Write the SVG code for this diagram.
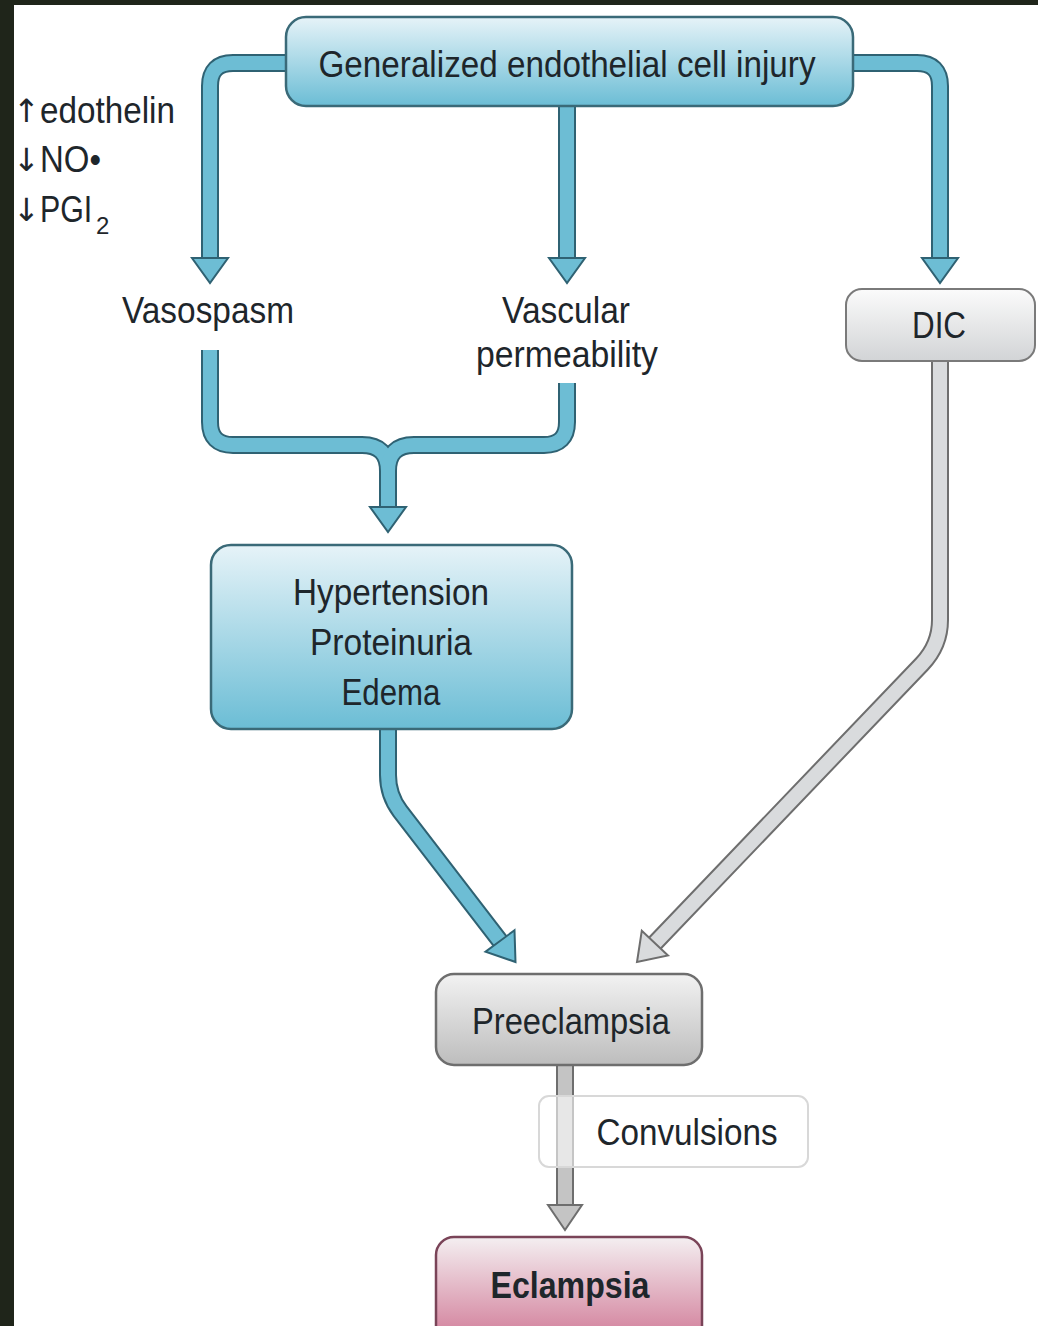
<svg xmlns="http://www.w3.org/2000/svg" width="1038" height="1326" viewBox="0 0 1038 1326">
  <defs>
    <linearGradient id="gBlue" x1="0" y1="0" x2="0" y2="1">
      <stop offset="0" stop-color="#e6f3f8"/>
      <stop offset="1" stop-color="#6bbdd5"/>
    </linearGradient>
    <linearGradient id="gGreyLight" x1="0" y1="0" x2="0" y2="1">
      <stop offset="0" stop-color="#fbfbfb"/>
      <stop offset="1" stop-color="#d2d4d6"/>
    </linearGradient>
    <linearGradient id="gGrey" x1="0" y1="0" x2="0" y2="1">
      <stop offset="0" stop-color="#f2f2f2"/>
      <stop offset="1" stop-color="#bdbdbd"/>
    </linearGradient>
    <linearGradient id="gPink" x1="0" y1="0" x2="0" y2="1">
      <stop offset="0" stop-color="#f4eff1"/>
      <stop offset="1" stop-color="#cf7593"/>
    </linearGradient>
    <style>
      text { font-family: "Liberation Sans", Arial, sans-serif; font-size: 37px; fill: #1e262b; }
      .sym { font-family: "DejaVu Sans", "Liberation Sans", sans-serif; font-size: 32px; }
      .bOut { fill: none; stroke: #2f6273; stroke-width: 18; }
      .bIn { fill: none; stroke: #6dbdd4; stroke-width: 14; }
      .gOut { fill: none; stroke: #6e6e6e; stroke-width: 18; }
      .gIn { fill: none; stroke: #d9dbdd; stroke-width: 14; }
      .bHead { fill: #6dbdd4; stroke: #2f6273; stroke-width: 2; stroke-linejoin: miter; }
      .gHead { fill: #d9dbdd; stroke: #6e6e6e; stroke-width: 2; stroke-linejoin: miter; }
      .gIn2 { fill: none; stroke: #c4c4c4; stroke-width: 14; }
      .gHead2 { fill: #c4c4c4; stroke: #6e6e6e; stroke-width: 2; }
    </style>
  </defs>

  <!-- background -->
  <rect x="0" y="0" width="1038" height="1326" fill="#1f251a"/>
  <rect x="14" y="5" width="1024" height="1321" fill="#ffffff"/>

  <!-- connectors -->
  <g id="connectors">
    <path class="bOut" d="M 290 63 H 233 Q 210 63 210 86 V 259"/>
    <path class="bOut" d="M 567 104 V 259"/>
    <path class="bOut" d="M 850 63 H 917 Q 940 63 940 86 V 259"/>
    <path class="bOut" d="M 210 350 V 422 Q 210 445 233 445 H 362 Q 388 445 388 471 V 508"/>
    <path class="bOut" d="M 567 383 V 422 Q 567 445 544 445 H 414 Q 388 445 388 471"/>
    <path class="bOut" d="M 388 726 V 775 Q 388 795 400 811 L 500 941"/>
    <path class="gOut" d="M 940 360 V 620 Q 940 645 922 664 L 655 943"/>
    <path class="gOut" d="M 565 1063 V 1206"/>
    <path class="bIn" d="M 290 63 H 233 Q 210 63 210 86 V 259"/>
    <path class="bIn" d="M 567 104 V 259"/>
    <path class="bIn" d="M 850 63 H 917 Q 940 63 940 86 V 259"/>
    <path class="bIn" d="M 210 350 V 422 Q 210 445 233 445 H 362 Q 388 445 388 471 V 508"/>
    <path class="bIn" d="M 567 383 V 422 Q 567 445 544 445 H 414 Q 388 445 388 471"/>
    <path class="bIn" d="M 388 726 V 775 Q 388 795 400 811 L 500 941"/>
    <path class="gIn" d="M 940 360 V 620 Q 940 645 922 664 L 655 943"/>
    <path class="gIn2" d="M 565 1063 V 1206"/>
    <polygon class="bHead" points="192,258 228,258 210,283"/>
    <polygon class="bHead" points="549,258 585,258 567,283"/>
    <polygon class="bHead" points="922,258 958,258 940,283"/>
    <polygon class="bHead" points="370,507 406,507 388,532"/>
    <polygon class="bHead" points="514.5,930.3 485.5,951.7 515.5,962"/>
    <polygon class="gHead" points="668,955.5 641.8,930.7 637,962"/>
    <polygon class="gHead2" points="548,1205 582,1205 565,1230"/>
  </g>

  <!-- nodes -->
  <g id="node-injury">
    <rect x="286" y="17" width="567" height="89" rx="20" fill="url(#gBlue)" stroke="#3a6a78" stroke-width="2.5"/>
    <text x="567" y="77" text-anchor="middle" textLength="497" lengthAdjust="spacingAndGlyphs">Generalized endothelial cell injury</text>
  </g>

  <g id="node-mediators">
    <text class="sym" x="13" y="122">↑</text>
    <text x="40" y="123" textLength="135" lengthAdjust="spacingAndGlyphs">edothelin</text>
    <text class="sym" x="13" y="171">↓</text>
    <text x="40" y="172" textLength="61" lengthAdjust="spacingAndGlyphs">NO•</text>
    <text class="sym" x="13" y="221">↓</text>
    <text transform="translate(40,222) scale(0.82,1)" x="0" y="0">PGI</text>
    <text x="96" y="234" style="font-size:24px">2</text>
  </g>

  <g id="node-vasospasm">
    <text x="208" y="323" text-anchor="middle" textLength="172" lengthAdjust="spacingAndGlyphs">Vasospasm</text>
  </g>

  <g id="node-permeability">
    <text x="566" y="323" text-anchor="middle" textLength="128" lengthAdjust="spacingAndGlyphs">Vascular</text>
    <text x="567" y="367" text-anchor="middle" textLength="182" lengthAdjust="spacingAndGlyphs">permeability</text>
  </g>

  <g id="node-dic">
    <rect x="846" y="289" width="189" height="72" rx="16" fill="url(#gGreyLight)" stroke="#7a7a7a" stroke-width="2"/>
    <text x="939" y="338" text-anchor="middle" textLength="54" lengthAdjust="spacingAndGlyphs">DIC</text>
  </g>

  <g id="node-hpe">
    <rect x="211" y="545" width="361" height="184" rx="20" fill="url(#gBlue)" stroke="#3a6a78" stroke-width="2.5"/>
    <text x="391" y="605" text-anchor="middle" textLength="196" lengthAdjust="spacingAndGlyphs">Hypertension</text>
    <text x="391" y="655" text-anchor="middle" textLength="162" lengthAdjust="spacingAndGlyphs">Proteinuria</text>
    <text x="391" y="705" text-anchor="middle" textLength="99" lengthAdjust="spacingAndGlyphs">Edema</text>
  </g>

  <g id="node-preeclampsia">
    <rect x="436" y="974" width="266" height="91" rx="18" fill="url(#gGrey)" stroke="#6e6e6e" stroke-width="2.5"/>
    <text x="571" y="1034" text-anchor="middle" textLength="198" lengthAdjust="spacingAndGlyphs">Preeclampsia</text>
  </g>

  <g id="label-convulsions">
    <rect x="539" y="1096" width="269" height="71" rx="10" fill="#ffffff" fill-opacity="0.6" stroke="#d8d8d8" stroke-width="2"/>
    <text x="687" y="1145" text-anchor="middle" textLength="181" lengthAdjust="spacingAndGlyphs">Convulsions</text>
  </g>

  <g id="node-eclampsia">
    <rect x="436" y="1237" width="266" height="110" rx="18" fill="url(#gPink)" stroke="#7a4458" stroke-width="2.5"/>
    <text x="570" y="1298" text-anchor="middle" font-weight="bold" textLength="159" lengthAdjust="spacingAndGlyphs">Eclampsia</text>
  </g>
</svg>
